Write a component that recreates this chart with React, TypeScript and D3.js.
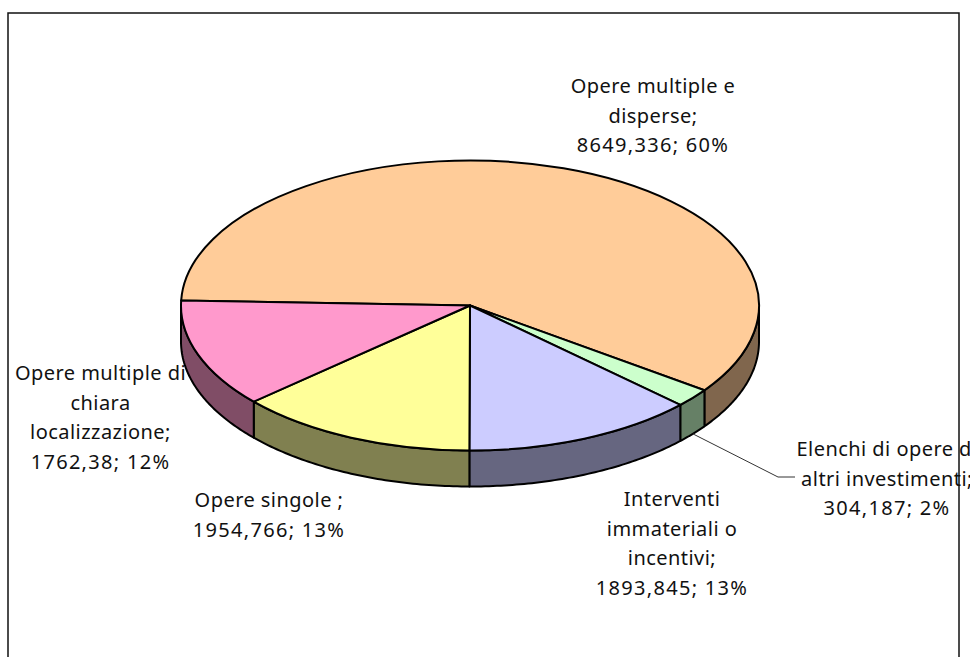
import React, { useEffect, useRef } from 'react';
import * as d3 from 'd3';

const categories = [
  'Opere multiple e disperse',
  'Elenchi di opere di altri investimenti',
  'Interventi immateriali o incentivi',
  'Opere singole ',
  'Opere multiple di chiara localizzazione',
];
const values = [8649.336, 304.187, 1893.845, 1954.766, 1762.38];
const percents = ['60%', '2%', '13%', '13%', '12%'];
const topColors = ['#FFCC99', '#CCFFCC', '#CCCCFF', '#FFFF99', '#FF99CC'];
const sideColors = ['#80664D', '#668066', '#666680', '#808050', '#804D66'];

// how each label wraps, same order as categories
const labelLines = [
  ['Opere multiple e', 'disperse;', '8649,336; 60%'],
  ['Elenchi di opere di', 'altri investimenti;', '304,187; 2%'],
  ['Interventi', 'immateriali o', 'incentivi;', '1893,845; 13%'],
  ['Opere singole ;', '1954,766; 13%'],
  ['Opere multiple di', 'chiara', 'localizzazione;', '1762,38; 12%'],
];
const labelPos = [
  { x: 653, y: 93 },
  { x: 887, y: 456 },
  { x: 672, y: 506 },
  { x: 269, y: 507 },
  { x: 100.5, y: 380 },
];

const W = 973;
const H = 657;

const App = () => {
  const svgRef = useRef<SVGSVGElement>(null);

  useEffect(() => {
    const svg = d3.select(svgRef.current);
    svg.selectAll('*').remove();

    const cx = 470;
    const cy = 305.5;
    const rx = 289;
    const ry = 145;
    const depth = 36;

    svg.append('rect')
      .attr('x', 8).attr('y', 13)
      .attr('width', 951).attr('height', H + 20)
      .attr('fill', '#fff').attr('stroke', '#111').attr('stroke-width', 1.5);

    const start = (-88 * Math.PI) / 180;
    const pieGen = d3.pie<number>().sort(null).startAngle(start).endAngle(start + 2 * Math.PI);
    const arcs = pieGen(values);

    const pt = (a: number, dy = 0): [number, number] => [
      cx + rx * Math.sin(a),
      cy - ry * Math.cos(a) + dy,
    ];

    // side wall, only the front half of the ellipse is visible
    const lineGen = d3.line();
    arcs.forEach((d, i) => {
      let a0 = d.startAngle;
      let a1 = d.endAngle;
      a0 = Math.max(a0, Math.PI / 2);
      a1 = Math.min(a1, (3 * Math.PI) / 2);
      if (a1 <= a0) return;
      const steps = d3.range(0, 61).map(k => a0 + ((a1 - a0) * k) / 60);
      const top = steps.map(a => pt(a));
      const bottom = steps.map(a => pt(a, depth)).reverse();
      svg.append('path')
        .attr('d', lineGen([...top, ...bottom]) + 'Z')
        .attr('fill', sideColors[i])
        .attr('stroke', '#000')
        .attr('stroke-width', 2)
        .attr('stroke-linejoin', 'round');
    });

    // top face: unit arc squashed into the ellipse
    const arcGen = d3.arc<d3.PieArcDatum<number>>().innerRadius(0).outerRadius(rx);
    svg.append('g')
      .attr('transform', `translate(${cx},${cy}) scale(1,${ry / rx})`)
      .selectAll('path')
      .data(arcs)
      .enter().append('path')
      .attr('d', arcGen)
      .attr('fill', (d, i) => topColors[i])
      .attr('stroke', '#000')
      .attr('stroke-width', 2)
      .attr('stroke-linejoin', 'round')
      .attr('vector-effect', 'non-scaling-stroke');

    // leader line of the small slice
    const mid = (arcs[1].startAngle + arcs[1].endAngle) / 2;
    svg.append('path')
      .attr('d', lineGen([pt(mid, depth), [778, 477], [795, 477]]))
      .attr('fill', 'none')
      .attr('stroke', '#333')
      .attr('stroke-width', 1);

    svg.append('clipPath').attr('id', 'page-clip')
      .append('rect').attr('x', 0).attr('y', 0).attr('width', 970).attr('height', H);

    const labels = svg.append('g')
      .attr('clip-path', 'url(#page-clip)')
      .attr('font-family', '"Noto Sans", sans-serif')
      .attr('font-size', 20)
      .attr('fill', '#111')
      .attr('text-anchor', 'middle');

    categories.forEach((name, i) => {
      const text = labels.append('text').attr('data-name', name).attr('data-pct', percents[i]);
      labelLines[i].forEach((line, j) => {
        text.append('tspan')
          .attr('x', labelPos[i].x)
          .attr('y', labelPos[i].y + j * 29.6)
          .attr('xml:space', 'preserve')
          .attr('letter-spacing', /\d/.test(line) ? 1.3 : 0.45)
          .text(line);
      });
    });
  }, []);

  return <svg ref={svgRef} width={W} height={H} style={{ position: 'absolute', left: 0, top: 0 }} />;
};

export default App;
